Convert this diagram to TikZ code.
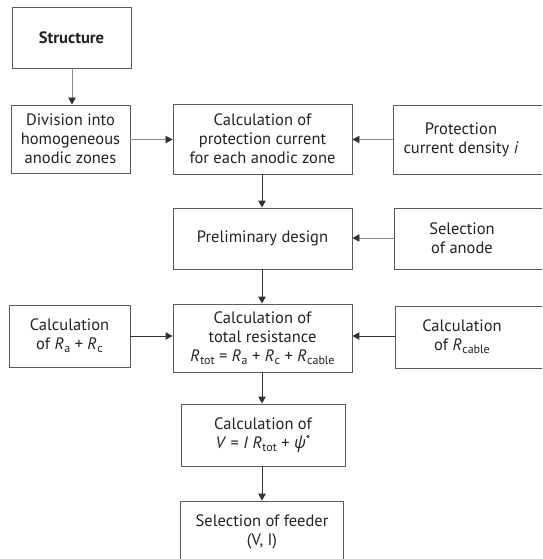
\documentclass[tikz,border=0pt]{standalone}
\usepackage{fontspec}
\setmainfont{PT Sans}
\newfontfamily\grkfont{Open Sans}
\usetikzlibrary{arrows.meta}
\definecolor{boxline}{HTML}{5A5A5A}
\definecolor{mainline}{HTML}{333333}
\definecolor{sideline}{HTML}{8A8A8A}
\definecolor{txtcol}{HTML}{222222}
\newcommand{\Rsb}[1]{\textit{R}\kern0.5pt\raisebox{-0.4ex}{\fontsize{12}{12}\selectfont #1}}
\tikzset{
  box/.style={draw=boxline, line width=0.9pt, rectangle, inner sep=0pt},
  txt/.style={align=center, text=txtcol, font=\fontsize{16.5}{19}\selectfont, inner sep=0pt},
  mainarrow/.style={draw=mainline, line width=1pt, -{Triangle[length=7pt,width=7.5pt,color=mainline]}},
  sidearrow/.style={draw=sideline, line width=0.8pt, -{Triangle[length=7pt,width=7.5pt,color=mainline]}},
}
\begin{document}
\begin{tikzpicture}[x=1pt,y=-1pt]
\useasboundingbox (0,0) rectangle (542,559);
\clip (0,0) rectangle (542,559);
% boxes
\node[box, minimum width=119pt, minimum height=61pt] (st) at (71.5,37.5) {};
\node[txt, font=\fontsize{16.5}{19}\selectfont\bfseries] (stt) at (st) {Structure};
\node[box, minimum width=119pt, minimum height=68pt] (dv) at (70.5,139) {};
\node[txt] (dvt) at (dv) {Division into\\homogeneous\\anodic zones};
\node[box, minimum width=179pt, minimum height=70pt] (cp) at (262.5,139) {};
\node[txt] (cpt) at (cp) {Calculation of\\protection current\\for each anodic zone};
\node[box, minimum width=170pt, minimum height=69pt] (pd) at (478,139.5) {};
\node[txt] (pdt) at (461,139.5) {Protection\\current density \textit{i}};
\node[box, minimum width=179pt, minimum height=61pt] (pr) at (262.5,238.5) {};
\node[txt] (prt) at (pr) {Preliminary design};
\node[box, minimum width=170pt, minimum height=61pt] (an) at (479,238.5) {};
\node[txt] (ant) at (462,238.5) {Selection\\of anode};
\node[box, minimum width=121pt, minimum height=62pt] (rarc) at (69.5,336) {};
\node[txt] (rarct) at (rarc) {Calculation\\of \Rsb{a} + \Rsb{c}};
\node[box, minimum width=179pt, minimum height=68pt] (tr) at (262.5,338) {};
\node[txt] (trt) at (tr) {Calculation of\\total resistance\\\Rsb{tot} = \Rsb{a} + \Rsb{c} + \Rsb{cable}};
\node[box, minimum width=170pt, minimum height=62pt] (rc) at (480,337) {};
\node[txt] (rct) at (462,337) {Calculation\\of \Rsb{cable}};
\node[box, minimum width=164pt, minimum height=62pt] (cv) at (263,435) {};
\node[txt] (cvt) at (cv) {Calculation of\\\textit{V} = \textit{I} \Rsb{tot} + {\grkfont\itshape ψ}\raisebox{0.5ex}{\fontsize{13}{13}\selectfont *}};
\node[box, minimum width=163pt, minimum height=70pt] (fd) at (261.5,536) {};
\node[txt] (fdt) at (262,532) {Selection of feeder\\(V, I)};
% connectors
\draw[sidearrow] (st.south -| 72,0) -- (dv.north -| 72,0);
\draw[sidearrow] (dv.east |- 0,139.5) -- (cp.west |- 0,139.5);
\draw[sidearrow] (pd.west |- 0,139.5) -- (cp.east |- 0,139.5);
\draw[mainarrow] (cp.south -| 262,0) -- (pr.north -| 262,0);
\draw[sidearrow] (an.west |- 0,238) -- (pr.east |- 0,238);
\draw[mainarrow] (pr.south -| 262,0) -- (tr.north -| 262,0);
\draw[mainarrow] (rarc.east |- 0,336) -- (tr.west |- 0,336);
\draw[mainarrow] (rc.west |- 0,336) -- (tr.east |- 0,336);
\draw[mainarrow] (tr.south -| 262,0) -- (cv.north -| 262,0);
\draw[mainarrow] (cv.south -| 262,0) -- (fd.north -| 262,0);
\end{tikzpicture}
\end{document}
